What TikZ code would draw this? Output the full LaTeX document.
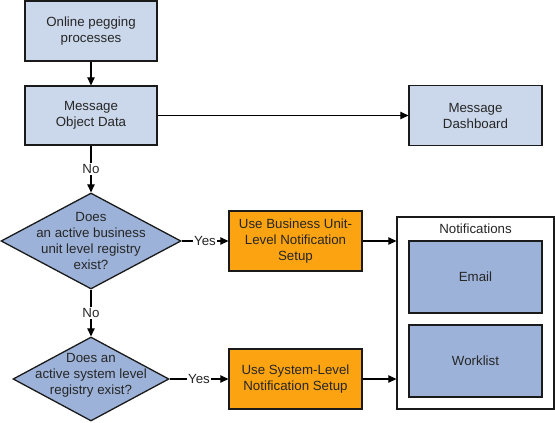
\documentclass[tikz,border=0pt]{standalone}
\usepackage{fontspec}
\setmainfont{Liberation Sans}
\usetikzlibrary{shapes.geometric,arrows.meta}
\definecolor{lightbox}{HTML}{CBD8EB}
\definecolor{midblue}{HTML}{9CB2D9}
\definecolor{orangebox}{HTML}{FCA311}
\definecolor{edgecol}{HTML}{1A1A1A}
\begin{document}
\begin{tikzpicture}[x=1pt,y=-1pt,
  every node/.style={font=\fontsize{13.3}{16}\selectfont, text=black!85},
  base/.style={draw=edgecol, line width=1.3pt, inner sep=0pt, align=center},
  lightrect/.style={base, rectangle, fill=lightbox},
  orangerect/.style={base, rectangle, fill=orangebox},
  bluerect/.style={base, rectangle, fill=midblue},
  decision/.style={base, diamond, fill=midblue},
  frame/.style={base, rectangle, fill=white},
  conn/.style={draw=black, line width=1.1pt, -{Triangle[length=8pt,width=7.5pt]}},
  lab/.style={fill=white, inner sep=1pt}
]
\useasboundingbox (0,0) rectangle (555,423);
\node[lightrect, minimum width=132pt, minimum height=60pt] (a) at (91,31) {Online pegging\\processes};
\node[lightrect, minimum width=132pt, minimum height=59pt] (b) at (91,115.5) {Message\\Object Data};
\node[lightrect, minimum width=133pt, minimum height=60pt] (dash) at (475.5,115.5) {Message\\Dashboard};
\node[decision, minimum width=180pt, minimum height=96pt,
  label={[align=center]center:Does\\an active business\\unit level registry\\exist?}] (d1) at (91,241) {};
\node[decision, minimum width=156pt, minimum height=84pt,
  label={[align=center,yshift=4pt]center:Does an\\active system level\\registry exist?}] (d2) at (91,379) {};
\node[orangerect, minimum width=133pt, minimum height=60pt] (o1) at (295.5,241) {Use Business Unit-\\Level Notification\\Setup};
\node[orangerect, minimum width=133pt, minimum height=60pt] (o2) at (295.5,379) {Use System-Level\\Notification Setup};
\node[frame, minimum width=157pt, minimum height=192pt,
  label={[anchor=north,yshift=-4pt]north:Notifications}] (notif) at (475.5,313) {};
\node[bluerect, minimum width=133pt, minimum height=72pt] (email) at (475.5,277) {Email};
\node[bluerect, minimum width=133pt, minimum height=72pt] (work) at (475.5,361) {Worklist};

\draw[conn] (a) -- (b);
\draw[conn] (b) -- (dash);
\draw[conn] (b) -- node[lab] {No} (d1);
\draw[conn] (d1) -- node[lab, pos=0.5] {Yes} (o1);
\draw[conn] (d1) -- node[lab] {No} (d2);
\draw[conn] (d2) -- node[lab] {Yes} (o2);
\draw[conn] (o1.east) -- (o1.east -| notif.west);
\draw[conn] (o2.east) -- (o2.east -| notif.west);
\end{tikzpicture}
\end{document}
